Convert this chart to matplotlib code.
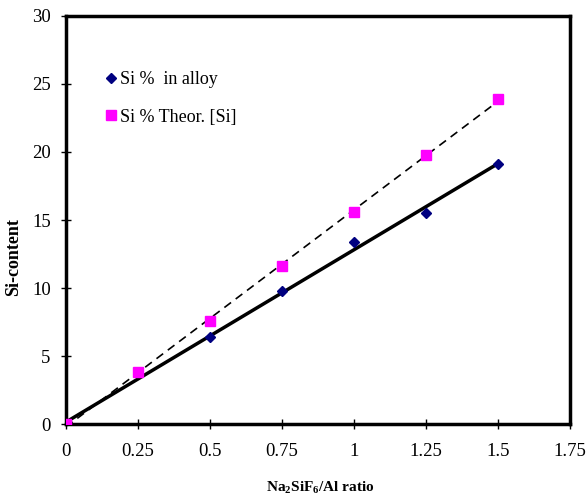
import numpy as np
import matplotlib.pyplot as plt

plt.rcParams['font.family'] = ['Liberation Serif', 'DejaVu Serif']
plt.rcParams['mathtext.fontset'] = 'custom'
plt.rcParams['mathtext.rm'] = 'Liberation Serif:bold'
plt.rcParams['mathtext.bf'] = 'Liberation Serif:bold'

# Data
ratio_alloy = [0, 0.5, 0.75, 1.0, 1.25, 1.5]
si_alloy = [0, 6.4, 9.8, 13.4, 15.5, 19.1]
ratio_theor = [0, 0.25, 0.5, 0.75, 1.0, 1.25, 1.5]
si_theor = [0, 3.8, 7.6, 11.6, 15.6, 19.8, 23.9]

x_ticks = [0, 0.25, 0.5, 0.75, 1, 1.25, 1.5, 1.75]
x_ticklabels = ['0', '0.25', '0.5', '0.75', '1', '1.25', '1.5', '1.75']
y_ticks = [0, 5, 10, 15, 20, 25, 30]

fig = plt.figure(figsize=(5.87, 4.95), dpi=100)
ax = fig.add_axes([0.1124, 0.1434, 0.8586, 0.8243])

# linear trend lines (like spreadsheet trendlines)
xx = np.array([0, 1.5])
p1 = np.polyfit(ratio_alloy, si_alloy, 1)
p2 = np.polyfit(ratio_theor, si_theor, 1)
ax.plot(xx, np.polyval(p2, xx), color='black', linestyle=(0, (5, 3.5)), linewidth=1.2, zorder=2)
ax.plot(xx, np.polyval(p1, xx), color='black', linestyle='-', linewidth=2.5, zorder=2)

ax.plot(ratio_alloy, si_alloy, linestyle='none', marker='D', markersize=5,
        color='#000080', label='Si %  in alloy', zorder=3)
ax.plot(ratio_theor, si_theor, linestyle='none', marker='s', markersize=6.5,
        color='#FF00FF', label='Si % Theor. [Si]', zorder=3)

ax.set_xlim(0, 1.75)
ax.set_ylim(0, 30)
ax.set_xticks(x_ticks)
ax.set_xticklabels(x_ticklabels)
ax.set_yticks(y_ticks)
ax.tick_params(direction='inout', length=7, width=1, labelsize=13.5)
ax.tick_params(axis='x', pad=10.5)
ax.tick_params(axis='y', pad=7.5)

for s in ax.spines.values():
    s.set_linewidth(2.5)

ax.set_xlabel('Na$_{2}$SiF$_{6}$/Al ratio', fontsize=11, fontweight='bold')
ax.set_ylabel('Si-content', fontsize=13, fontweight='bold')
ax.xaxis.set_label_coords(0.505, -0.135)
ax.yaxis.set_label_coords(-0.087, 0.41)

ax.legend(loc='upper left', bbox_to_anchor=(0.039, 0.905), frameon=False,
          fontsize=13, handletextpad=0.0, handlelength=1.0, labelspacing=1.15)

fig.savefig('out.png', dpi=100)
